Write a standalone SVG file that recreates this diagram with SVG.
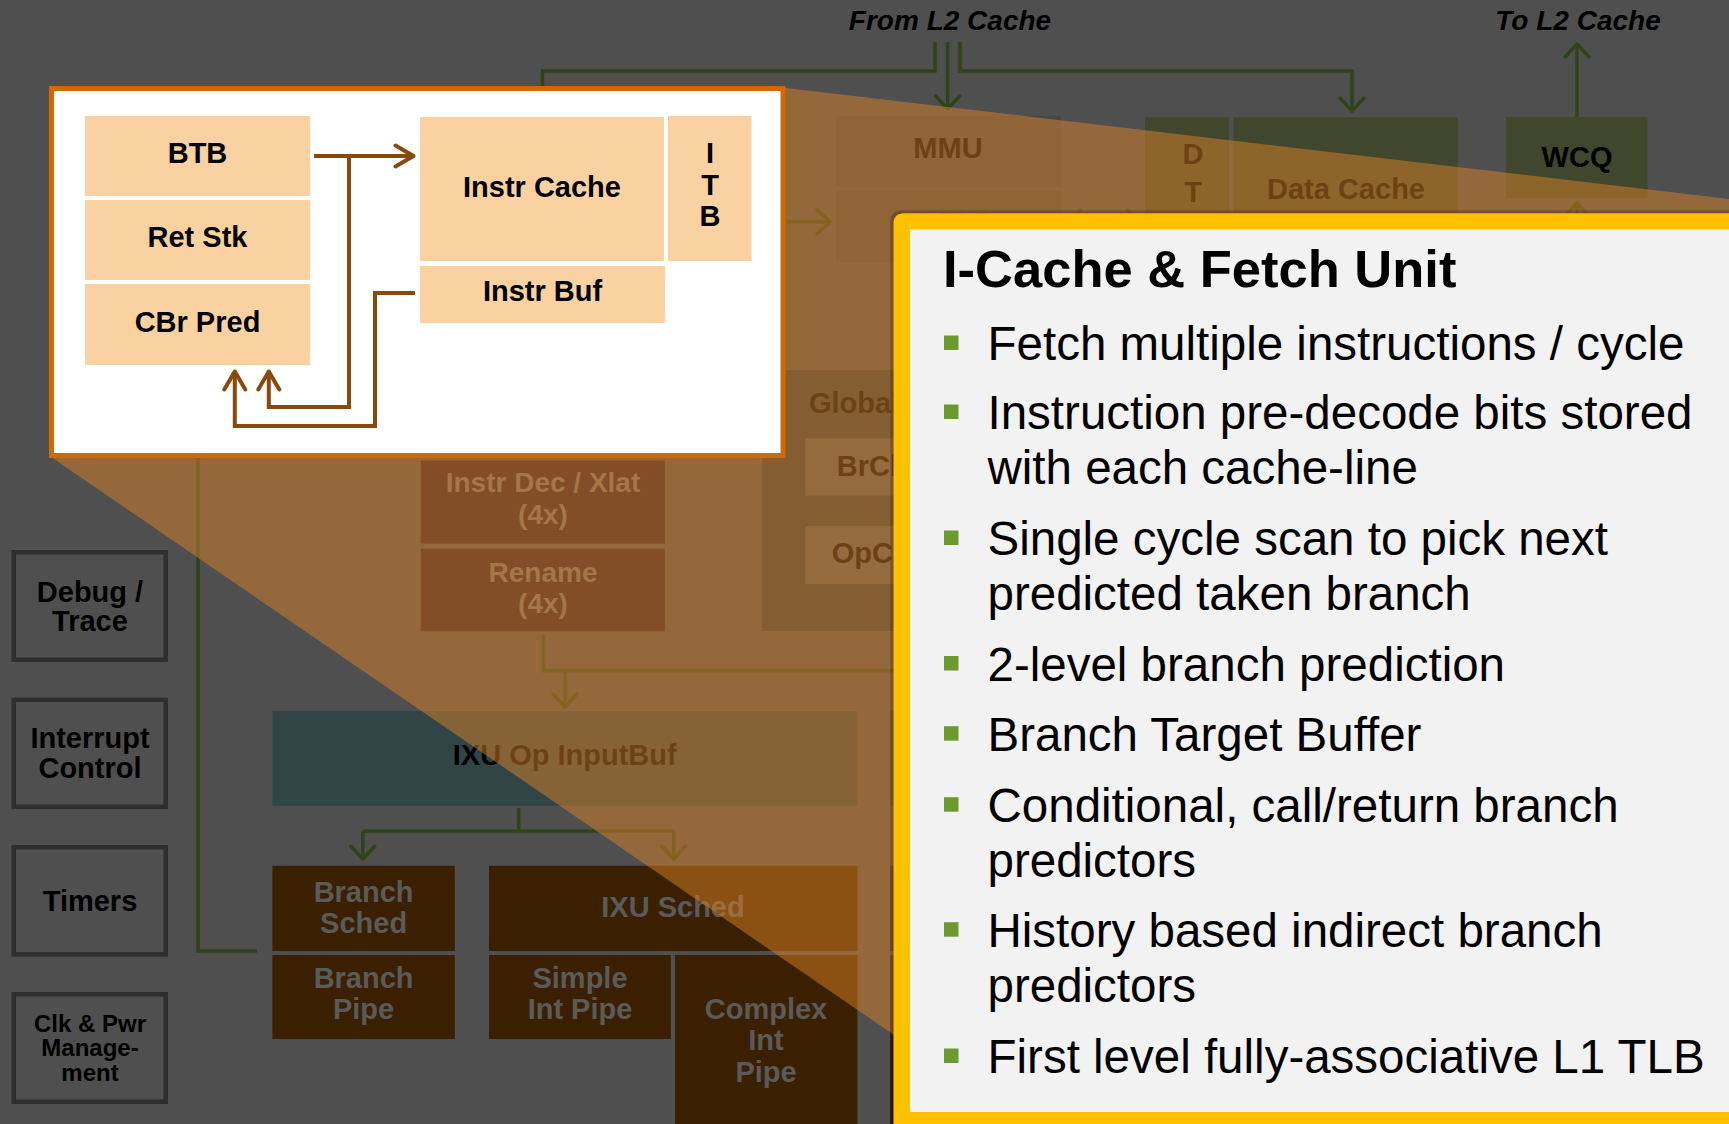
<svg xmlns="http://www.w3.org/2000/svg" width="1729" height="1124" viewBox="0 0 1729 1124">
  <defs>
    <style>
      text { font-family: "Liberation Sans", Arial, Helvetica, sans-serif; }
      .lbl { font-weight: bold; font-size: 29px; text-anchor: middle; fill: #000; }
      .lbl-l { font-weight: bold; font-size: 29px; text-anchor: start; fill: #000; }
      .dim { font-weight: bold; font-size: 29px; text-anchor: middle; fill: #5a5a5a; }
      .dim2 { font-weight: bold; font-size: 28px; text-anchor: middle; fill: #6e6a6a; }
      .small { font-weight: bold; font-size: 24px; text-anchor: middle; fill: #000; }
      .io { font-weight: bold; font-style: italic; font-size: 28px; text-anchor: middle; fill: #000; }
      .gray-box { fill: #4f4f4f; stroke: #2e2e2e; stroke-width: 4.5; }
      .olive { fill: #40472c; }
      .mmu { fill: #464646; }
      .exec { fill: #3a2000; }
      .front { fill: #2a1828; }
      .teal { fill: #314446; }
      .wire { fill: none; stroke: #2e4418; stroke-width: 3.5; stroke-linejoin: miter; }
      .fetch-node { fill: #fad2a2; }
      .fetch-lbl { font-weight: bold; font-size: 29px; text-anchor: middle; fill: #000; }
      .fetch-wire { fill: none; stroke: #884a0c; stroke-width: 4; }
      .bullet { fill: #6b9b2f; }
      .item { font-size: 47.5px; fill: #000; }
    </style>
    <marker id="arrow-green" viewBox="-17 -15 20 30" markerUnits="userSpaceOnUse" markerWidth="20" markerHeight="30" refX="0" refY="0" orient="auto-start-reverse">
      <path d="M-13,-12 L0,0 L-13,12" fill="none" stroke="#2e4418" stroke-width="3.5" stroke-linecap="round" stroke-linejoin="round"/>
    </marker>
    <marker id="arrow-brown" viewBox="-21 -14 24 28" markerUnits="userSpaceOnUse" markerWidth="24" markerHeight="28" refX="0" refY="0" orient="auto">
      <path d="M-18,-10.5 L0,0 L-18,10.5" fill="none" stroke="#884a0c" stroke-width="4" stroke-linecap="round" stroke-linejoin="round"/>
    </marker>
  </defs>

  <!-- slide background -->
  <rect x="0" y="0" width="1729" height="1124" fill="#4f4f4f"/>

  <!-- L2 interface labels -->
  <g id="label-from-l2">
    <text class="io" x="950" y="30">From L2 Cache</text>
  </g>
  <g id="label-to-l2">
    <text class="io" x="1578" y="30">To L2 Cache</text>
  </g>

  <!-- core block diagram (dimmed) -->
  <g id="mmu">
    <rect class="mmu" x="836" y="116" width="225" height="70.7"/>
    <text class="lbl" x="948" y="158.3">MMU</text>
  </g>
  <g id="l2-tlb">
    <rect class="mmu" x="836" y="190.7" width="225" height="72"/>
    <text class="lbl" x="946" y="232.7">L2 TLB</text>
  </g>
  <g id="dtlb">
    <rect class="olive" x="1145" y="117.3" width="84" height="150"/>
    <text class="lbl" x="1193" y="164">D</text>
    <text class="lbl" x="1193" y="201.7">T</text>
  </g>
  <g id="data-cache">
    <rect class="olive" x="1233.6" y="117.3" width="224.4" height="150"/>
    <text class="lbl" x="1346" y="199.3">Data Cache</text>
  </g>
  <g id="wcq">
    <rect class="olive" x="1506" y="117" width="141.5" height="80.7"/>
    <text class="lbl" x="1577" y="166.7">WCQ</text>
  </g>
  <g id="global">
    <rect x="762.3" y="370" width="200" height="261" fill="#2f3940"/>
    <text class="lbl-l" x="809" y="412.7">Global</text>
  </g>
  <g id="brc">
    <rect x="805.3" y="438.3" width="150" height="57.4" fill="#505353"/>
    <text class="lbl-l" x="836.7" y="476">BrCl</text>
  </g>
  <g id="opc">
    <rect x="805.3" y="526" width="150" height="58" fill="#505353"/>
    <text class="lbl-l" x="831.7" y="562.7">OpC</text>
  </g>
  <g id="instr-dec">
    <rect class="front" x="420.8" y="460.5" width="244" height="83"/>
    <text class="dim2" x="543" y="492.4">Instr Dec / Xlat</text>
    <text class="dim2" x="543" y="524">(4x)</text>
  </g>
  <g id="rename">
    <rect class="front" x="420.8" y="548.7" width="244" height="82.6"/>
    <text class="dim2" x="543" y="582">Rename</text>
    <text class="dim2" x="543" y="612.5">(4x)</text>
  </g>
  <g id="ixu-op-inputbuf">
    <rect class="teal" x="272.4" y="711" width="585" height="94.7"/>
    <text class="lbl" x="564.7" y="765">IXU Op InputBuf</text>
  </g>
  <g id="next-column">
    <rect class="teal" x="890" y="711" width="80" height="94.7"/>
    <rect class="exec" x="890" y="865.7" width="80" height="85.3"/>
    <rect class="exec" x="890" y="955" width="80" height="170"/>
  </g>
  <g id="branch-sched">
    <rect class="exec" x="272.4" y="865.7" width="182.4" height="85.3"/>
    <text class="dim" x="363.6" y="901.7">Branch</text>
    <text class="dim" x="363.6" y="933">Sched</text>
  </g>
  <g id="branch-pipe">
    <rect class="exec" x="272.4" y="955" width="182.4" height="84"/>
    <text class="dim" x="363.6" y="988">Branch</text>
    <text class="dim" x="363.6" y="1019">Pipe</text>
  </g>
  <g id="ixu-sched">
    <rect class="exec" x="489" y="865.7" width="368.4" height="85.3"/>
    <text class="dim" x="673" y="917">IXU Sched</text>
  </g>
  <g id="simple-int-pipe">
    <rect class="exec" x="489" y="955" width="181.8" height="84"/>
    <text class="dim" x="580" y="988">Simple</text>
    <text class="dim" x="580" y="1019">Int Pipe</text>
  </g>
  <g id="complex-int-pipe">
    <rect class="exec" x="675" y="955" width="182.4" height="180"/>
    <text class="dim" x="766" y="1019">Complex</text>
    <text class="dim" x="766" y="1050">Int</text>
    <text class="dim" x="766" y="1081.7">Pipe</text>
  </g>

  <!-- system blocks on the left -->
  <g id="debug-trace">
    <rect class="gray-box" x="13.75" y="552.25" width="152" height="107.5"/>
    <text class="lbl" x="90" y="601.6">Debug /</text>
    <text class="lbl" x="90" y="631">Trace</text>
  </g>
  <g id="interrupt-control">
    <rect class="gray-box" x="13.75" y="699.85" width="152" height="106.9"/>
    <text class="lbl" x="90" y="748">Interrupt</text>
    <text class="lbl" x="90" y="778.4">Control</text>
  </g>
  <g id="timers">
    <rect class="gray-box" x="13.75" y="847.25" width="152" height="107.1"/>
    <text class="lbl" x="90" y="910.7">Timers</text>
  </g>
  <g id="clk-pwr">
    <rect class="gray-box" x="13.75" y="994.25" width="152" height="107.5"/>
    <text class="small" x="90" y="1031.7">Clk &amp; Pwr</text>
    <text class="small" x="90" y="1055.7">Manage-</text>
    <text class="small" x="90" y="1081">ment</text>
  </g>

  <!-- core interconnect -->
  <g id="connectors">
    <path class="wire" d="M935,42 V71 H542.5 V100"/>
    <path class="wire" d="M947.6,42 V109" marker-end="url(#arrow-green)"/>
    <path class="wire" d="M960,42 V71 H1352 V111" marker-end="url(#arrow-green)"/>
    <path class="wire" d="M1577,117 V44" marker-end="url(#arrow-green)"/>
    <path class="wire" d="M1577,240 V203" marker-end="url(#arrow-green)"/>
    <path class="wire" d="M786,221.7 H830" marker-end="url(#arrow-green)"/>
    <path class="wire" d="M1068,222 H1140" marker-start="url(#arrow-green)" marker-end="url(#arrow-green)"/>
    <path class="wire" d="M198,458 V951 H257"/>
    <path class="wire" d="M543.5,635 V670.7 H900"/>
    <path class="wire" d="M565,670.7 V707" marker-end="url(#arrow-green)"/>
    <path class="wire" d="M518.7,808 V831"/>
    <path class="wire" d="M362.8,831 H673.7"/>
    <path class="wire" d="M362.8,831 V859" marker-end="url(#arrow-green)"/>
    <path class="wire" d="M673.7,831 V859" marker-end="url(#arrow-green)"/>
  </g>

  <!-- magnifier cone from the fetch inset to the callout -->
  <polygon id="zoom-cone" points="786,88 1729,199 1729,1124 1024,1124 51,457" fill="#d98125" fill-opacity="0.5"/>

  <!-- fetch unit inset -->
  <g id="fetch-inset">
    <rect x="51.5" y="88.5" width="731.5" height="367" fill="#ffffff" stroke="#d06a00" stroke-width="5"/>
    <g id="btb">
      <rect class="fetch-node" x="85" y="116" width="225" height="80"/>
      <text class="fetch-lbl" x="197.5" y="163.3">BTB</text>
    </g>
    <g id="ret-stk">
      <rect class="fetch-node" x="85" y="200" width="225" height="80"/>
      <text class="fetch-lbl" x="197.5" y="247.3">Ret Stk</text>
    </g>
    <g id="cbr-pred">
      <rect class="fetch-node" x="85" y="284" width="225" height="81"/>
      <text class="fetch-lbl" x="197.5" y="331.6">CBr Pred</text>
    </g>
    <g id="instr-cache">
      <rect class="fetch-node" x="420" y="117" width="244" height="144"/>
      <text class="fetch-lbl" x="542" y="196.7">Instr Cache</text>
    </g>
    <g id="itb">
      <rect class="fetch-node" x="668" y="116" width="83.5" height="145"/>
      <text class="fetch-lbl" x="710" y="162.7">I</text>
      <text class="fetch-lbl" x="710" y="194.5">T</text>
      <text class="fetch-lbl" x="710" y="225.7">B</text>
    </g>
    <g id="instr-buf">
      <rect class="fetch-node" x="420" y="266" width="245" height="57"/>
      <text class="fetch-lbl" x="542.5" y="301">Instr Buf</text>
    </g>
    <g id="fetch-connectors">
      <path class="fetch-wire" d="M314,156 H413.5" marker-end="url(#arrow-brown)"/>
      <path class="fetch-wire" d="M349,156 V407 H268.8 V371.5" marker-end="url(#arrow-brown)"/>
      <path class="fetch-wire" d="M415,293 H375 V426 H234.8 V371.5" marker-end="url(#arrow-brown)"/>
    </g>
  </g>

  <!-- callout -->
  <g id="callout">
    <rect x="890.5" y="210.5" width="900" height="1000" rx="10" fill="#000" fill-opacity="0.22"/>
    <rect x="893.5" y="213.3" width="900" height="1000" rx="9" fill="#ffc000"/>
    <rect x="910" y="229.5" width="900" height="882.5" fill="#f2f2f2"/>
    <text x="943" y="287" font-size="52.5" font-weight="bold" fill="#000">I-Cache &amp; Fetch Unit</text>

    <rect class="bullet" x="944" y="335.5" width="14.5" height="14.5"/>
    <text class="item" x="987.5" y="360">Fetch multiple instructions / cycle</text>

    <rect class="bullet" x="944" y="404.5" width="14.5" height="14.5"/>
    <text class="item" x="987.5" y="429">Instruction pre-decode bits stored</text>
    <text class="item" x="987.5" y="484">with each cache-line</text>

    <rect class="bullet" x="944" y="530.5" width="14.5" height="14.5"/>
    <text class="item" x="987.5" y="555">Single cycle scan to pick next</text>
    <text class="item" x="987.5" y="610">predicted taken branch</text>

    <rect class="bullet" x="944" y="656" width="14.5" height="14.5"/>
    <text class="item" x="987.5" y="680.5">2-level branch prediction</text>

    <rect class="bullet" x="944" y="726.2" width="14.5" height="14.5"/>
    <text class="item" x="987.5" y="750.7">Branch Target Buffer</text>

    <rect class="bullet" x="944" y="797.2" width="14.5" height="14.5"/>
    <text class="item" x="987.5" y="821.7">Conditional, call/return branch</text>
    <text class="item" x="987.5" y="876.7">predictors</text>

    <rect class="bullet" x="944" y="922.2" width="14.5" height="14.5"/>
    <text class="item" x="987.5" y="946.7">History based indirect branch</text>
    <text class="item" x="987.5" y="1001.7">predictors</text>

    <rect class="bullet" x="944" y="1048.5" width="14.5" height="14.5"/>
    <text class="item" x="987.5" y="1073">First level fully-associative L1 TLB</text>
  </g>
</svg>
